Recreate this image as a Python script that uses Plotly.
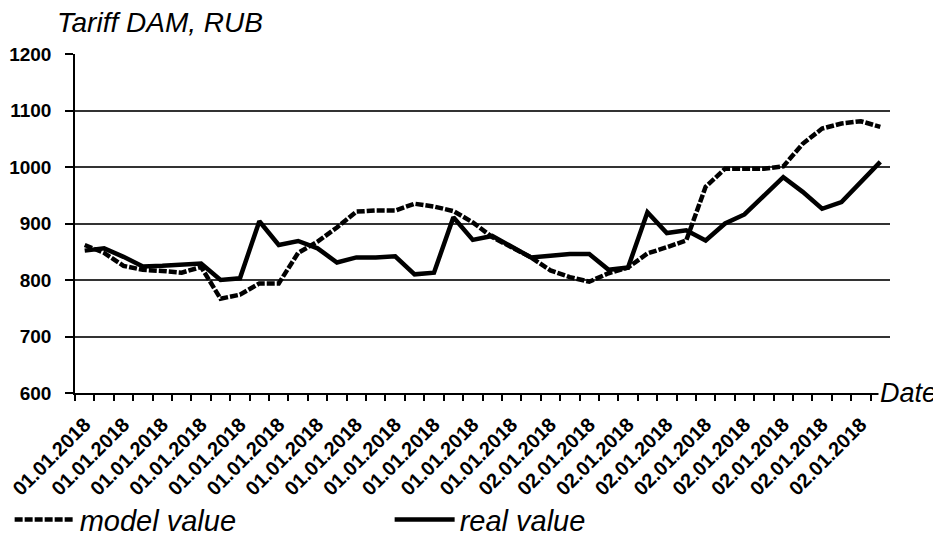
import plotly.graph_objects as go

# ---- data (hourly, 42 points) ----
hours = list(range(42))
date_labels = ["01.01.2018"] * 24 + ["02.01.2018"] * 18

model_value = [862, 848, 825, 818, 816, 813, 823, 767, 774, 794,
               794, 848, 868, 893, 921, 923, 923, 935, 930, 922,
               902, 876, 858, 840, 817, 805, 797, 812, 822, 847,
               858, 870, 965, 997, 997, 997, 1001, 1041, 1068, 1077,
               1081, 1071]

real_value = [852, 856, 841, 824, 825, 827, 829, 800, 803, 904,
              862, 869, 856, 831, 840, 840, 842, 810, 813, 911,
              871, 878, 858, 840, 843, 846, 846, 818, 822, 920,
              883, 888, 870, 900, 916, 950, 982, 956, 926, 938,
              973, 1009]

y_ticks = [600, 700, 800, 900, 1000, 1100, 1200]

FONT = "Liberation Sans, Arial, sans-serif"

# the page body adds an 8px margin at the top-left
W, H = 933, 529

fig = go.Figure()
fig.add_trace(go.Scatter(
    x=hours, y=real_value, mode="lines", name="real value",
    line=dict(color="black", width=4.5), legendrank=2))
fig.add_trace(go.Scatter(
    x=hours, y=model_value, mode="lines", name="model value",
    line=dict(color="black", width=4.5, dash="8px,2px"), legendrank=1))

fig.update_layout(
    width=W, height=H,
    margin=dict(l=67, r=51, t=46, b=144, autoexpand=False),
    paper_bgcolor="white", plot_bgcolor="white",
    font=dict(family=FONT, color="black"),
    title=dict(text="Tariff DAM, RUB", x=49 / W, xanchor="left",
               xref="container", y=1 - 14 / H, yanchor="middle",
               font=dict(size=28, style="italic", color="black")),
    xaxis=dict(
        range=[-0.5, 41.5], tickmode="array",
        tickvals=hours[::2], ticktext=date_labels[::2],
        tickangle=-45, ticks="", showgrid=False, zeroline=False,
        showline=True, linecolor="black", linewidth=2,
        ticklabelstandoff=10, automargin=False,
        tickfont=dict(family=FONT, size=20, color="black", weight="bold"),
        minor=dict(ticks="outside", tickmode="array",
                   tickvals=[h - 0.5 for h in hours] + [hours[-1] + 0.5],
                   ticklen=6, tickwidth=1.5, tickcolor="black", showgrid=False),
    ),
    yaxis=dict(
        range=[600, 1200], tickmode="array", tickvals=y_ticks,
        showgrid=True, gridcolor="#333333", gridwidth=1.6,
        ticks="outside", ticklen=8, tickwidth=1.5, tickcolor="black",
        showline=True, linecolor="black", linewidth=1.5, zeroline=False,
        ticklabelstandoff=10, automargin=False,
        tickfont=dict(family=FONT, size=19, color="black", weight="bold"),
    ),
    showlegend=True,
    legend=dict(orientation="h", x=-0.0802, y=-0.3734, xanchor="left",
                yanchor="middle", entrywidth=305, itemwidth=60,
                bgcolor="rgba(0,0,0,0)",
                font=dict(family=FONT, size=29, style="italic", color="black")),
    annotations=[dict(text="Date", xref="paper", yref="y", x=0.985, y=600,
                      xanchor="left", yanchor="middle", showarrow=False,
                      bgcolor="white",
                      font=dict(family=FONT, size=27, style="italic", color="black"))],
)

fig.write_html("out.html")
